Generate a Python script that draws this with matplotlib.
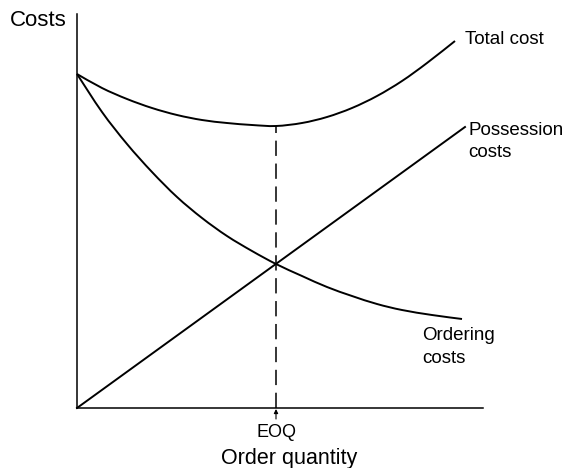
import matplotlib
matplotlib.use("Agg")
import matplotlib.pyplot as plt
from matplotlib.path import Path
from matplotlib.patches import PathPatch

plt.rcParams['font.family'] = ['Liberation Sans', 'DejaVu Sans']

# Data (arbitrary units)
order_x = [0, 25, 50, 75, 100, 125, 150, 175, 199, 225, 250, 275, 300, 325, 355, 385]
ordering_costs = [334, 296, 264, 236, 211, 190, 172, 157, 144, 132, 121, 112, 104, 98, 93, 89]

total_x = [0, 25, 50, 75, 100, 125, 150, 175, 199, 225, 250, 275, 300, 325, 350, 378]
total_cost = [334, 320, 309, 300, 293, 288, 285, 283, 282, 285, 291, 300, 312, 327, 345, 367]

poss_x = [0, 388]
possession_costs = [0, 281]

eoq_x = 199
eoq_total = 282


def smooth_path(xs, ys, tension=1.0 / 6):
    """Catmull-Rom style cubic Bezier through the given points."""
    pts = list(zip(xs, ys))
    verts = [pts[0]]
    codes = [Path.MOVETO]
    n = len(pts)
    for i in range(n - 1):
        p0 = pts[i - 1] if i > 0 else pts[i]
        p1 = pts[i]
        p2 = pts[i + 1]
        p3 = pts[i + 2] if i + 2 < n else pts[i + 1]
        c1 = (p1[0] + (p2[0] - p0[0]) * tension, p1[1] + (p2[1] - p0[1]) * tension)
        c2 = (p2[0] - (p3[0] - p1[0]) * tension, p2[1] - (p3[1] - p1[1]) * tension)
        verts += [c1, c2, p2]
        codes += [Path.CURVE4] * 3
    return Path(verts, codes)


W, H = 569, 468
fig = plt.figure(figsize=(W / 100, H / 100), dpi=100)
ax = fig.add_axes([77 / W, (H - 408) / H, 406 / W, 394 / H])
ax.set_xlim(0, 406)
ax.set_ylim(0, 394)
for s in ['top', 'right']:
    ax.spines[s].set_visible(False)
for s in ['left', 'bottom']:
    ax.spines[s].set_linewidth(1.1)
ax.set_xticks([])
ax.set_yticks([])

lw = 1.4
for xs, ys in [(total_x, total_cost), (order_x, ordering_costs)]:
    ax.add_patch(PathPatch(smooth_path(xs, ys), facecolor='none',
                           edgecolor='black', lw=lw, clip_on=False,
                           capstyle='butt'))
ax.plot(poss_x, possession_costs, color='black', lw=lw, clip_on=False)
ax.plot([eoq_x, eoq_x], [0, eoq_total], color='black', lw=1.1,
        linestyle=(0, (10, 5)), clip_on=False)

ax.annotate('', xy=(eoq_x, -1), xytext=(eoq_x, -11),
            arrowprops=dict(arrowstyle='-|>', lw=0.8, color='black',
                            mutation_scale=6, shrinkA=0, shrinkB=0),
            annotation_clip=False)

fs = 13.5
ax.text(-10, 382, 'Costs', fontsize=16, ha='right', va='baseline', clip_on=False)
ax.text(388, 364, 'Total cost', fontsize=fs, ha='left', va='baseline')
ax.text(391, 273, 'Possession', fontsize=fs, ha='left', va='baseline')
ax.text(391, 251, 'costs', fontsize=fs, ha='left', va='baseline')
ax.text(345, 68, 'Ordering', fontsize=fs, ha='left', va='baseline')
ax.text(345, 45, 'costs', fontsize=fs, ha='left', va='baseline')
ax.text(eoq_x, -29, 'EOQ', fontsize=13, ha='center', va='baseline')
ax.text(212, -56, 'Order quantity', fontsize=15.5, ha='center', va='baseline')

fig.savefig('out.png', dpi=100)
